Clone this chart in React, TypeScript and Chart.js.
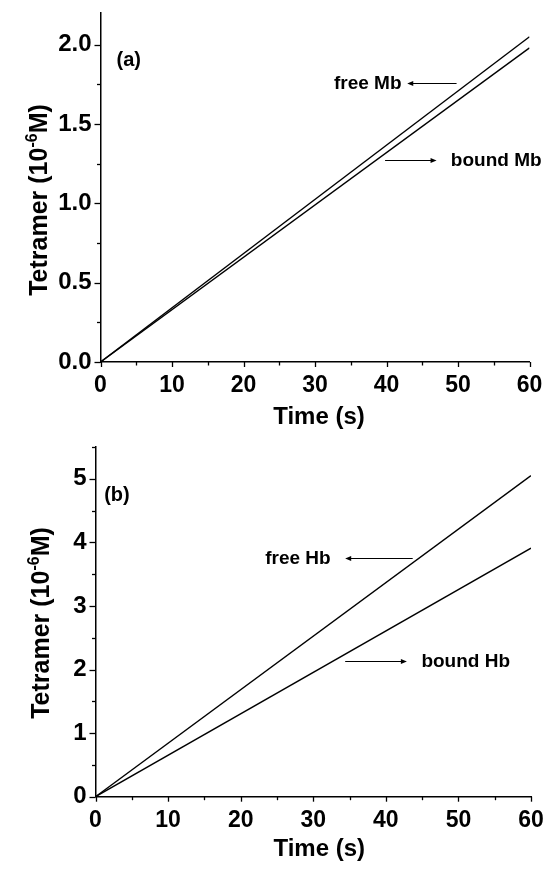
import React, { useEffect, useRef } from 'react';
import { Chart, registerables } from 'chart.js';

Chart.register(...registerables);

// ---------- data ----------
const timeSeconds = [0, 60];
const freeMbTetramer = [0, 2.05];
const boundMbTetramer = [0, 1.98];
const freeHbTetramer = [0, 5.05];
const boundHbTetramer = [0, 3.91];

const xTickValues = [0, 10, 20, 30, 40, 50, 60];
const panelAYTicks = [0, 0.5, 1.0, 1.5, 2.0];
const panelBYTicks = [0, 1, 2, 3, 4, 5];

const xAxisTitle = 'Time (s)';
const yAxisTitleMain = 'Tetramer (10';
const yAxisTitleSup = '-6';
const yAxisTitleEnd = 'M)';

const FONT = '"Liberation Sans", Arial, Helvetica, sans-serif';

type Note = {
  text: string;
  x: number;
  y: number;
  align: 'left' | 'right';
  arrowFrom: number;
  arrowTo: number;
};

type PanelSpec = {
  height: number;
  padTop: number;
  padRight: number;
  yAxisWidth: number;
  xAxisHeight: number;
  yMax: number;
  yMajor: number;
  yMinor: number;
  yDecimals: number;
  yTicks: number[];
  series: number[][];
  tag: string;
  tagX: number;
  tagY: number;
  notes: Note[];
  yTitleBaselineX: number;
  yTitleCenterY: number;
  xTitleY: number;
  xTitleDx: number;
};

const panelA: PanelSpec = {
  height: 435,
  padTop: 13,
  padRight: 17.5,
  yAxisWidth: 100.5,
  xAxisHeight: 73,
  yMax: 2.2,
  yMajor: 0.5,
  yMinor: 0.25,
  yDecimals: 1,
  yTicks: panelAYTicks,
  series: [freeMbTetramer, boundMbTetramer],
  tag: '(a)',
  tagX: 2.25,
  tagY: 1.9,
  notes: [
    { text: 'free Mb', x: 42.1, y: 1.76, align: 'right', arrowFrom: 49.8, arrowTo: 42.9 },
    { text: 'bound Mb', x: 49.0, y: 1.275, align: 'left', arrowFrom: 39.8, arrowTo: 47.0 },
  ],
  yTitleBaselineX: 47,
  yTitleCenterY: 200,
  xTitleY: 417,
  xTitleDx: 4,
};

const panelB: PanelSpec = {
  height: 434,
  padTop: 12,
  padRight: 16,
  yAxisWidth: 95.5,
  xAxisHeight: 72.3,
  yMax: 5.5,
  yMajor: 1,
  yMinor: 0.5,
  yDecimals: 0,
  yTicks: panelBYTicks,
  series: [freeHbTetramer, boundHbTetramer],
  tag: '(b)',
  tagX: 1.2,
  tagY: 4.74,
  notes: [
    { text: 'free Hb', x: 32.4, y: 3.76, align: 'right', arrowFrom: 43.7, arrowTo: 34.4 },
    { text: 'bound Hb', x: 44.9, y: 2.14, align: 'left', arrowFrom: 34.4, arrowTo: 42.9 },
  ],
  yTitleBaselineX: 49,
  yTitleCenterY: 188,
  xTitleY: 414,
  xTitleDx: 6,
};

const decoPlugin = {
  id: 'panelDeco',
  afterDraw(chart: any, _args: any, spec: PanelSpec) {
    const { ctx, chartArea: ca, scales } = chart;
    const xs = scales.x;
    const ys = scales.y;
    ctx.save();
    ctx.strokeStyle = '#000';
    ctx.fillStyle = '#000';
    ctx.lineWidth = 1.3;

    // x tick marks (major 10, minor 5)
    for (let v = 0; v <= 60 + 1e-9; v += 5) {
      const px = Math.round(xs.getPixelForValue(v)) + 0.5;
      const major = v % 10 === 0;
      ctx.beginPath();
      ctx.moveTo(px, ca.bottom);
      ctx.lineTo(px, ca.bottom + (major ? 5 : 3.5));
      ctx.stroke();
    }
    // y tick marks
    const nMinor = Math.floor(spec.yMax / spec.yMinor + 1e-9);
    for (let i = 0; i <= nMinor; i++) {
      const v = i * spec.yMinor;
      const py = Math.round(ys.getPixelForValue(v)) + 0.5;
      const major = i % 2 === 0;
      ctx.beginPath();
      ctx.moveTo(ca.left, py);
      ctx.lineTo(ca.left - (major ? 6 : 3.5), py);
      ctx.stroke();
    }

    // panel tag
    ctx.font = `bold 20px ${FONT}`;
    ctx.textBaseline = 'middle';
    ctx.textAlign = 'left';
    ctx.fillText(spec.tag, xs.getPixelForValue(spec.tagX), ys.getPixelForValue(spec.tagY));

    // notes with arrows
    ctx.font = `bold 19px ${FONT}`;
    ctx.lineWidth = 1;
    for (const n of spec.notes) {
      const ty = ys.getPixelForValue(n.y);
      ctx.textAlign = n.align;
      ctx.fillText(n.text, xs.getPixelForValue(n.x), ty + 1);
      const x0 = xs.getPixelForValue(n.arrowFrom);
      const x1 = xs.getPixelForValue(n.arrowTo);
      const ay = Math.round(ty) + 0.5;
      const dir = x1 > x0 ? 1 : -1;
      ctx.beginPath();
      ctx.moveTo(x0, ay);
      ctx.lineTo(x1 - dir * 5, ay);
      ctx.stroke();
      ctx.beginPath();
      ctx.moveTo(x1, ay);
      ctx.lineTo(x1 - dir * 6, ay - 2.5);
      ctx.lineTo(x1 - dir * 6, ay + 2.5);
      ctx.closePath();
      ctx.fill();
    }

    // x axis title
    ctx.font = `bold 24px ${FONT}`;
    ctx.textAlign = 'center';
    ctx.textBaseline = 'middle';
    ctx.fillText(xAxisTitle, (ca.left + ca.right) / 2 + spec.xTitleDx, spec.xTitleY);

    // y axis title with superscript
    const mainFont = `bold 25px ${FONT}`;
    const supFont = `bold 16px ${FONT}`;
    ctx.font = mainFont;
    const w1 = ctx.measureText(yAxisTitleMain).width;
    const w3 = ctx.measureText(yAxisTitleEnd).width;
    ctx.font = supFont;
    const w2 = ctx.measureText(yAxisTitleSup).width;
    const total = w1 + w2 + w3;
    ctx.translate(spec.yTitleBaselineX, spec.yTitleCenterY);
    ctx.rotate(-Math.PI / 2);
    ctx.textAlign = 'left';
    ctx.textBaseline = 'alphabetic';
    let cx = -total / 2;
    ctx.font = mainFont;
    ctx.fillText(yAxisTitleMain, cx, 0);
    cx += w1;
    ctx.font = supFont;
    ctx.fillText(yAxisTitleSup, cx, -10);
    cx += w2;
    ctx.font = mainFont;
    ctx.fillText(yAxisTitleEnd, cx, 0);
    ctx.restore();
  },
};

function Panel({ spec }: { spec: PanelSpec }) {
  const ref = useRef<HTMLCanvasElement | null>(null);
  useEffect(() => {
    const canvas = ref.current;
    if (!canvas) return;
    const chart = new Chart(canvas, {
      type: 'line',
      data: {
        datasets: spec.series.map((s) => ({
          data: timeSeconds.map((t, i) => ({ x: t, y: s[i] })),
          borderColor: '#000',
          borderWidth: 1.4,
          pointRadius: 0,
          fill: false,
          tension: 0,
        })),
      },
      options: {
        responsive: false,
        animation: false,
        events: [],
        layout: { padding: { top: spec.padTop, right: spec.padRight, left: 0, bottom: 0 } },
        plugins: {
          legend: { display: false },
          tooltip: { enabled: false },
          panelDeco: spec,
        } as any,
        scales: {
          x: {
            type: 'linear',
            min: 0,
            max: 60,
            grid: { display: false, drawTicks: false },
            border: { display: true, color: '#000', width: 1.5 },
            afterBuildTicks: (s: any) => {
              s.ticks = xTickValues.map((v) => ({ value: v }));
            },
            ticks: {
              autoSkip: false,
              maxRotation: 0,
              padding: 10,
              color: '#000',
              font: { family: FONT, size: 23, weight: 'bold' },
              callback: (v: any) => String(v),
            },
            afterFit: (s: any) => {
              s.height = spec.xAxisHeight;
              s.paddingLeft = 0;
              s.paddingRight = 0;
            },
          },
          y: {
            type: 'linear',
            min: 0,
            max: spec.yMax,
            grid: { display: false, drawTicks: false },
            border: { display: true, color: '#000', width: 1.5 },
            afterBuildTicks: (s: any) => {
              s.ticks = spec.yTicks.map((v) => ({ value: v }));
            },
            ticks: {
              autoSkip: false,
              padding: 9,
              color: '#000',
              font: { family: FONT, size: 24, weight: 'bold' },
              callback: (v: any) => Number(v).toFixed(spec.yDecimals),
            },
            afterFit: (s: any) => {
              s.width = spec.yAxisWidth;
              s.paddingTop = 0;
              s.paddingBottom = 0;
            },
          },
        } as any,
      },
      plugins: [decoPlugin],
    });
    return () => chart.destroy();
  }, [spec]);
  return <canvas ref={ref} width={547} height={spec.height} style={{ display: 'block' }} />;
}

export default function App() {
  useEffect(() => {
    document.body.style.margin = '0';
  }, []);
  return (
    <div style={{ width: 547, background: '#fff' }}>
      <Panel spec={panelA} />
      <Panel spec={panelB} />
    </div>
  );
}
